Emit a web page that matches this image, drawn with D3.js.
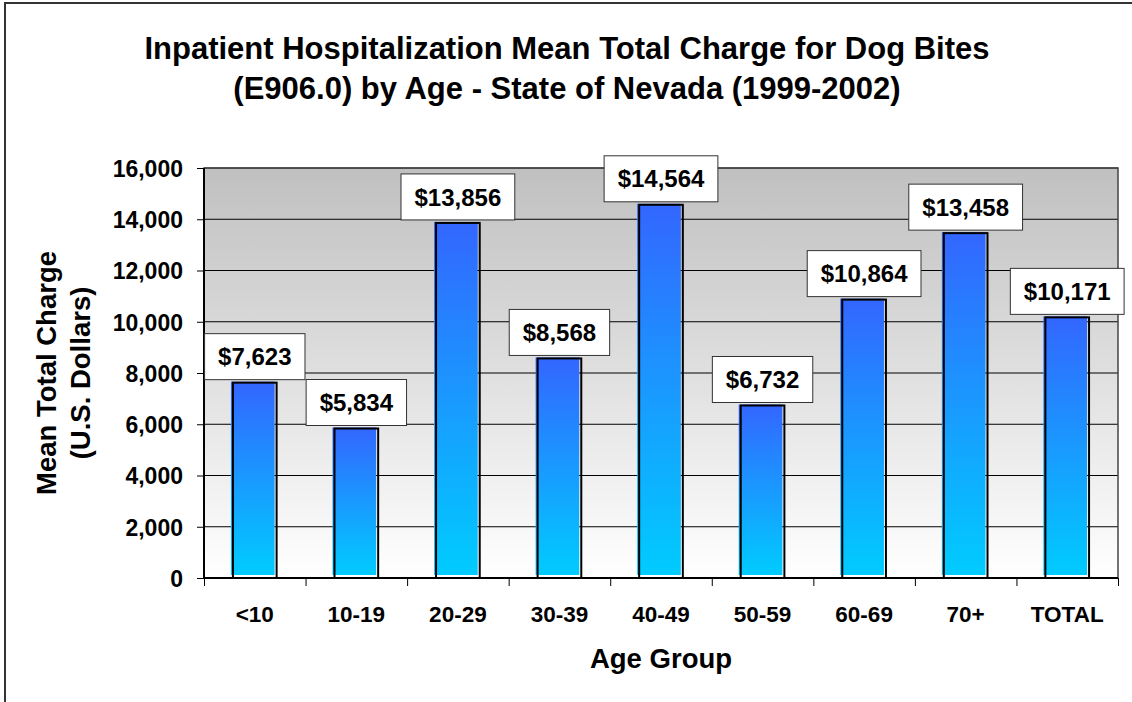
<!DOCTYPE html>
<html>
<head>
<meta charset="utf-8">
<script src="https://cdn.jsdelivr.net/npm/d3@7"></script>
<style>
    body { margin: 0; background: #fff; }
    svg { display: block; font-family: Arial, "Liberation Sans", sans-serif; font-weight: bold; }
</style>
</head>
<body>
<svg id="chart" width="1132" height="702"></svg>
<script>
/*
 * Chart data
 */
var ageGroups = ['<10', '10-19', '20-29', '30-39', '40-49', '50-59', '60-69', '70+', 'TOTAL'];
var meanCharges = [7623, 5834, 13856, 8568, 14564, 6732, 10864, 13458, 10171];
var yTicks = [0, 2000, 4000, 6000, 8000, 10000, 12000, 14000, 16000];
var titleLines = ['Inpatient Hospitalization Mean Total Charge for Dog Bites',
                  '(E906.0) by Age - State of Nevada (1999-2002)'];
var yTitleLines = ['Mean Total Charge', '(U.S. Dollars)'];
var xTitle = 'Age Group';

var svg = d3.select('#chart');
var margin = {left: 204, top: 168, right: 14, bottom: 124};
var width = 1132 - margin.left - margin.right;
var height = 702 - margin.top - margin.bottom;

var defs = svg.append('defs');

// plot background: grey at top fading to white
var bgGrad = defs.append('linearGradient')
    .attr('id', 'bg-grad')
    .attr('x1', 0).attr('y1', 0).attr('x2', 0).attr('y2', 1);
bgGrad.append('stop').attr('offset', '0%').attr('stop-color', '#c0c0c0');
bgGrad.append('stop').attr('offset', '100%').attr('stop-color', '#ffffff');

// bars: blue on top, cyan at the base
var barGrad = defs.append('linearGradient')
    .attr('id', 'bar-grad')
    .attr('x1', 0).attr('y1', 0).attr('x2', 0).attr('y2', 1);
barGrad.append('stop').attr('offset', '0%').attr('stop-color', '#3366ff');
barGrad.append('stop').attr('offset', '100%').attr('stop-color', '#00ccff');

// outer frame (right and bottom edges run off the picture)
svg.append('path')
    .attr('d', 'M5,720V3H1150')
    .attr('fill', 'none')
    .attr('stroke', '#333')
    .attr('stroke-width', 2);

/*
 * Title
 */
svg.append('g')
    .selectAll('text')
    .data(titleLines)
    .join('text')
    .attr('x', 567)
    .attr('y', function(d, i) { return 59 + i * 40; })
    .attr('text-anchor', 'middle')
    .attr('font-size', 31)
    .text(function(d) { return d; });

var g = svg.append('g')
    .attr('transform', 'translate(' + margin.left + ',' + margin.top + ')');

/*
 * Scales
 */
var x = d3.scaleBand()
    .domain(ageGroups)
    .range([0, width])
    .paddingInner(0.57)
    .paddingOuter(0.285);

var xEdge = d3.scaleLinear()
    .domain([0, ageGroups.length])
    .range([0, width]);

var y = d3.scaleLinear()
    .domain([0, 16000])
    .range([height, 0]);

g.append('rect')
    .attr('width', width)
    .attr('height', height)
    .attr('fill', 'url(#bg-grad)');

// gridlines
g.append('g')
    .selectAll('line')
    .data(yTicks.slice(1))
    .join('line')
    .attr('x1', 0)
    .attr('x2', width)
    .attr('y1', function(d) { return y(d); })
    .attr('y2', function(d) { return y(d); })
    .attr('stroke', '#000')
    .attr('stroke-width', 1);

// plot area border
g.append('rect')
    .attr('width', width)
    .attr('height', height)
    .attr('fill', 'none')
    .attr('stroke', '#444')
    .attr('stroke-width', 1.5);

/*
 * Bars
 */
var bars = g.append('g')
    .selectAll('g')
    .data(meanCharges)
    .join('g');

bars.append('rect')
    .attr('x', function(d, i) { return x(ageGroups[i]) - 2; })
    .attr('y', function(d) { return y(d) - 1; })
    .attr('width', x.bandwidth())
    .attr('height', function(d) { return height - y(d) - 2; })
    .attr('fill', 'url(#bar-grad)');

bars.append('rect')
    .attr('x', function(d, i) { return x(ageGroups[i]); })
    .attr('y', function(d) { return y(d); })
    .attr('width', x.bandwidth())
    .attr('height', function(d) { return height - y(d); })
    .attr('fill', 'none')
    .attr('stroke', '#000')
    .attr('stroke-width', 2);

/*
 * Axes
 */
var yAxis = g.append('g')
    .call(d3.axisLeft(y)
        .tickValues(yTicks)
        .tickSize(7)
        .tickPadding(14)
        .tickFormat(d3.format(',')));
yAxis.select('.domain').attr('stroke', '#000').attr('stroke-width', 2).attr('d', 'M0,0V' + height);
yAxis.selectAll('.tick line').attr('stroke', '#000');
yAxis.selectAll('.tick text')
    .attr('font-size', 23)
    .attr('font-family', null)
    .attr('fill', '#000')
    .attr('dy', '0.36em');

var xTicks = g.append('g')
    .attr('transform', 'translate(0,' + height + ')')
    .call(d3.axisBottom(xEdge)
        .tickValues(d3.range(ageGroups.length + 1))
        .tickSize(8)
        .tickFormat(''));
xTicks.select('.domain').attr('stroke', '#000').attr('stroke-width', 2).attr('d', 'M0,0H' + width);
xTicks.selectAll('.tick line').attr('stroke', '#000');

var xAxis = g.append('g')
    .attr('transform', 'translate(0,' + height + ')')
    .call(d3.axisBottom(x).tickSize(0).tickPadding(28));
xAxis.select('.domain').remove();
xAxis.selectAll('.tick text')
    .attr('font-size', 22.5)
    .attr('font-family', null)
    .attr('fill', '#000');

/*
 * Data labels: white boxes sitting just above each bar
 */
var labels = g.append('g')
    .selectAll('g')
    .data(meanCharges)
    .join('g')
    .attr('transform', function(d, i) {
        return 'translate(' + (x(ageGroups[i]) + x.bandwidth() / 2) + ',' + (y(d) - 26) + ')';
    });

labels.append('text')
    .attr('text-anchor', 'middle')
    .attr('dy', '0.36em')
    .attr('font-size', 24)
    .text(function(d) { return '$' + d3.format(',')(d); });

labels.insert('rect', 'text')
    .each(function() {
        var w = this.parentNode.querySelector('text').getComputedTextLength() + 27;
        d3.select(this)
            .attr('x', -w / 2)
            .attr('y', -23)
            .attr('width', w)
            .attr('height', 46);
    })
    .attr('fill', '#fff')
    .attr('stroke', '#333')
    .attr('stroke-width', 1);

/*
 * Axis titles
 */
svg.append('text')
    .attr('x', margin.left + width / 2)
    .attr('y', 668)
    .attr('text-anchor', 'middle')
    .attr('font-size', 27.5)
    .text(xTitle);

svg.append('g')
    .attr('transform', 'translate(0,' + (margin.top + height / 2) + ') rotate(-90)')
    .selectAll('text')
    .data(yTitleLines)
    .join('text')
    .attr('x', 0)
    .attr('y', function(d, i) { return 56 + i * 34; })
    .attr('text-anchor', 'middle')
    .attr('font-size', 27.5)
    .text(function(d) { return d; });
</script>
</body>
</html>
